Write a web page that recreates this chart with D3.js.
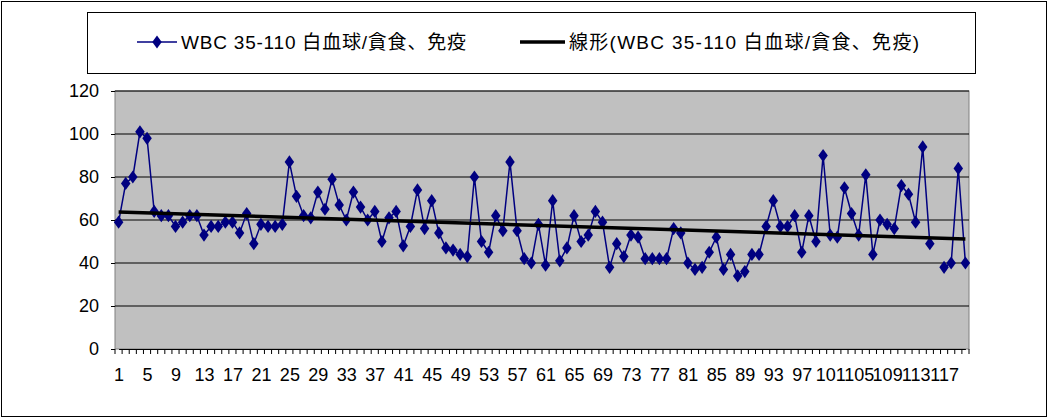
<!DOCTYPE html>
<html><head><meta charset="utf-8">
<script src="https://cdn.jsdelivr.net/npm/d3@7"></script>
<style>body{margin:0;background:#fff}text{font-family:"Liberation Sans","Noto Sans CJK JP",sans-serif}</style>
</head><body><svg id="c" width="1049" height="419"></svg>
<script>
const seriesName = "WBC 35-110 白血球/貪食、免疫";
const trendName = "線形(WBC 35-110 白血球/貪食、免疫)";
const values = [59,77,80,101,98,64,62,62,57,59,62,62,53,57,57,59,59,54,63,49,
58,57,57,58,87,71,62,61,73,65,79,67,60,73,66,60,64,50,61,64,
48,57,74,56,69,54,47,46,44,43,80,50,45,62,55,87,55,42,40,58,
39,69,41,47,62,50,53,64,59,38,49,43,53,52,42,42,42,42,56,54,
40,37,38,45,52,37,44,34,36,44,44,57,69,57,57,62,45,62,50,90,
53,52,75,63,53,81,44,60,58,56,76,72,59,94,49,null,38,40,84,40];
const categories = values.map((d,i)=>i+1);
const yTicks = [0,20,40,60,80,100,120];

const svg = d3.select("#c");
svg.append("rect").attr("x",1.5).attr("y",1.5).attr("width",1045).attr("height",415).attr("fill","#fff").attr("stroke","#000");
const L=115,R=969,T=91,B=349;
const x = d3.scalePoint().domain(categories).range([L+3.6,R-3.6]);
const y = d3.scaleLinear().domain([0,120]).range([B,T]);
svg.append("rect").attr("x",L).attr("y",T).attr("width",R-L).attr("height",B-T).attr("fill","#c0c0c0").attr("stroke","#808080");
svg.append("g").selectAll("line").data(yTicks.slice(1)).join("line")
 .attr("x1",L).attr("x2",R).attr("y1",d=>y(d)).attr("y2",d=>y(d)).attr("stroke","#000");
const ya = svg.append("g").attr("transform",`translate(${L},0)`).call(d3.axisLeft(y).tickValues(yTicks).tickSize(4));
ya.select(".domain").remove();
ya.selectAll("text").attr("font-size",18).attr("fill","#000").attr("x",-16);
const xa = svg.append("g").attr("transform",`translate(0,${B})`).call(d3.axisBottom(x).tickSize(0).tickFormat(d=>(d-1)%4===0?d:""));
xa.select(".domain").attr("stroke","#000");
xa.selectAll("text").attr("font-size",18).attr("fill","#000").attr("y",19);
const w=(R-L)/categories.length;
svg.append("g").selectAll("line").data(d3.range(categories.length+1)).join("line")
 .attr("x1",d=>L+d*w).attr("x2",d=>L+d*w).attr("y1",B).attr("y2",B+5).attr("stroke","#000");
const pts = values.map((v,i)=>[i+1,v]).filter(p=>p[1]!=null);
const mx=d3.mean(pts,p=>p[0]), my=d3.mean(pts,p=>p[1]);
const slope=d3.sum(pts,p=>(p[0]-mx)*(p[1]-my))/d3.sum(pts,p=>(p[0]-mx)**2), icpt=my-slope*mx;
const line=d3.line().defined(d=>d!=null).x((d,i)=>x(i+1)).y(d=>y(d));
svg.append("path").datum(values).attr("d",line).attr("fill","none").attr("stroke","#000080").attr("stroke-width",1.5);
const diamond=d3.symbol().type(d3.symbolDiamond).size(50);
svg.append("g").selectAll("path").data(pts).join("path").attr("d",diamond)
 .attr("transform",p=>`translate(${x(p[0])},${y(p[1])}) scale(1.25,1)`).attr("fill","#000080");
svg.append("line").attr("x1",x(1)).attr("x2",x(categories.length))
 .attr("y1",y(icpt+slope)).attr("y2",y(icpt+slope*categories.length)).attr("stroke","#000").attr("stroke-width",3.5);
svg.append("rect").attr("x",87.5).attr("y",12.5).attr("width",888).attr("height",61).attr("fill","#fff").attr("stroke","#000");
svg.append("line").attr("x1",137).attr("x2",177).attr("y1",42).attr("y2",42).attr("stroke","#000080").attr("stroke-width",1.5);
svg.append("path").attr("d",diamond).attr("transform","translate(157,42) scale(1.25,1)").attr("fill","#000080");
svg.append("text").attr("x",181).attr("y",49).attr("font-size",19).attr("textLength",285).text(seriesName);
svg.append("line").attr("x1",520).attr("x2",565).attr("y1",42).attr("y2",42).attr("stroke","#000").attr("stroke-width",3.5);
svg.append("text").attr("x",569).attr("y",49).attr("font-size",19).attr("textLength",350).text(trendName);
</script></body></html>
